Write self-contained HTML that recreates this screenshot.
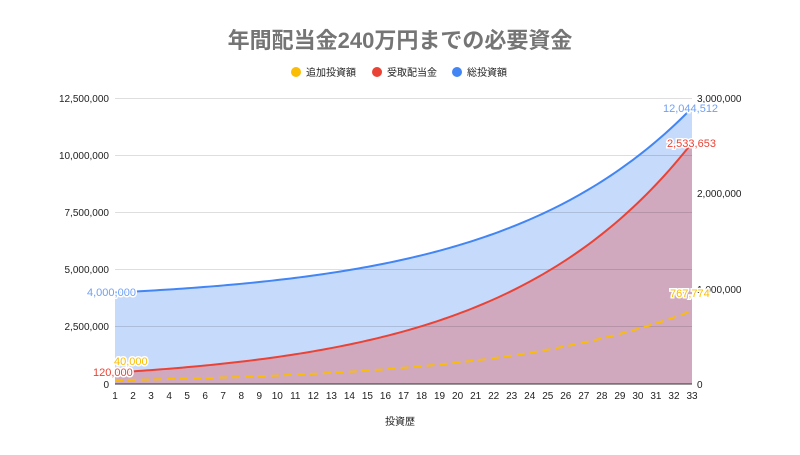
<!DOCTYPE html>
<html><head><meta charset="utf-8"><style>
body{margin:0;background:#fff}
svg text{font-family:"Liberation Sans","Noto Sans CJK JP",sans-serif}
</style></head><body>
<svg id="s" width="800" height="450" xmlns="http://www.w3.org/2000/svg">
<rect width="800" height="450" fill="#fff"/>
<text x="400" y="48" text-anchor="middle" font-size="22" font-weight="bold" fill="#757575">年間配当金240万円までの必要資金</text>
<circle cx="296" cy="72" r="5" fill="#fbbc04"/><text x="306" y="76" font-size="10" fill="#222">追加投資額</text>
<circle cx="377" cy="72" r="5" fill="#ea4335"/><text x="387" y="76" font-size="10" fill="#222">受取配当金</text>
<circle cx="457" cy="72" r="5" fill="#4285f4"/><text x="467" y="76" font-size="10" fill="#222">総投資額</text>
<g id="plot"></g>
<g stroke="#000" stroke-opacity="0.13" stroke-width="1">
<line x1="115" x2="692" y1="98.5" y2="98.5"/><line x1="115" x2="692" y1="155.5" y2="155.5"/>
<line x1="115" x2="692" y1="212.5" y2="212.5"/><line x1="115" x2="692" y1="269.5" y2="269.5"/>
<line x1="115" x2="692" y1="326.5" y2="326.5"/>
</g>
<g id="lines"></g>
<line x1="115" x2="692" y1="384" y2="384" stroke="#333"/>
<g font-size="10" fill="#222" text-anchor="end">
<text x="109" y="102">12,500,000</text><text x="109" y="159">10,000,000</text><text x="109" y="216">7,500,000</text>
<text x="109" y="273">5,000,000</text><text x="109" y="330">2,500,000</text><text x="109" y="388">0</text>
</g>
<g font-size="10" fill="#222">
<text x="697" y="102">3,000,000</text><text x="697" y="197">2,000,000</text><text x="697" y="293">1,000,000</text><text x="697" y="388">0</text>
</g>
<g id="xl" font-size="10" fill="#222" text-anchor="middle"></g>
<text x="400" y="425" text-anchor="middle" font-size="10" fill="#222">投資歴</text>
<g font-size="11" stroke="#fff" stroke-width="3" paint-order="stroke">
<text x="87" y="296" fill="#6fa0f5">4,000,000</text>
<text x="114" y="365" fill="#fbbc04">40,000</text>
<text x="93" y="376" fill="#ea4335">120,000</text>
<text x="663" y="112" fill="#6fa0f5">12,044,512</text>
<text x="667" y="147" fill="#ea4335">2,533,653</text>
<text x="670" y="297" fill="#fbbc04">767,774</text>
</g>
</svg>
<script>
function X(n){return 115+(n-1)*577/32}
function pts(a,b){let s=[];for(let n=1;n<=33.0001;n+=0.25){s.push(X(n).toFixed(2)+","+(384-(a+b*Math.pow(1.1,n-1))).toFixed(2));}return s}
const b=pts(82.3,9.18),r=pts(0.1,11.42),y=pts(0.35,3.45);
document.getElementById("plot").innerHTML='<polygon points="'+b.join(" ")+' 692,384 115,384" fill="#c6dafc"/>'+
'<polygon points="'+r.join(" ")+' 692,384 115,384" fill="#d1a9bf"/>';
document.getElementById("lines").innerHTML=
'<polyline points="'+b.join(" ")+'" fill="none" stroke="#4285f4" stroke-width="2"/>'+
'<polyline points="'+r.join(" ")+'" fill="none" stroke="#ea4335" stroke-width="2"/>'+
'<polyline points="'+y.join(" ")+'" fill="none" stroke="#fbbc04" stroke-width="2" stroke-dasharray="8,5"/>';
let s="";for(let n=1;n<=33;n++)s+='<text x="'+X(n)+'" y="399">'+n+'</text>';
document.getElementById("xl").innerHTML=s;
</script>
</body></html>
